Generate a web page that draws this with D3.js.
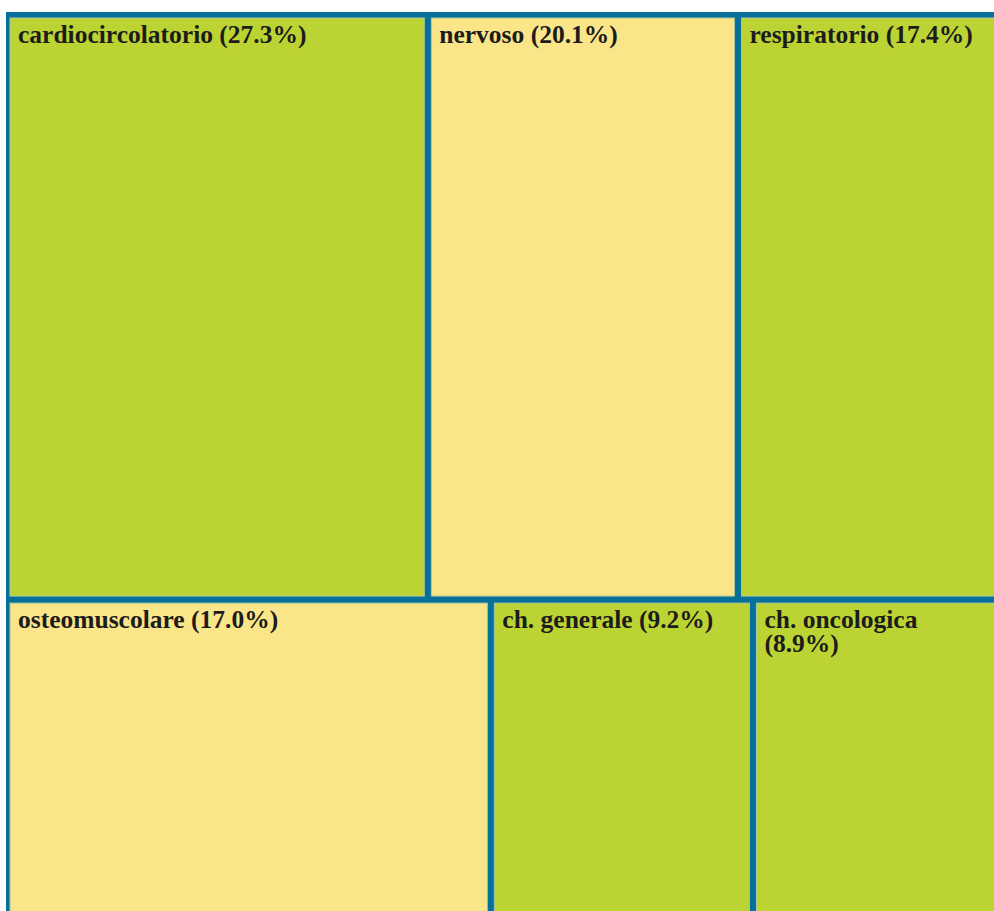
<!DOCTYPE html>
<html>
<head>
<meta charset="utf-8">
<script src="https://cdn.jsdelivr.net/npm/d3@7"></script>
<style>
  body { margin: 0; background: #fff; overflow: hidden; }
  svg { display: block; }
</style>
</head>
<body>
<div id="chart"></div>
<script>
// categories, shares (%) and which row of the tile they sit in
const categories = ["cardiocircolatorio", "nervoso", "respiratorio", "osteomuscolare", "ch. generale", "ch. oncologica"];
const values = [27.3, 20.1, 17.4, 17.0, 9.2, 8.9];
const rows = [0, 0, 0, 1, 1, 1];
const fills = ["#bcd433", "#fae588", "#bcd433", "#fae588", "#bcd433", "#bcd433"];

const width = 994;
const height = 911;
const gap = 7;      // blue space between cells
const pad = 8;      // text padding inside a cell

const svg = d3.select("#chart")
    .append("svg")
    .attr("width", width)
    .attr("height", height);

// build hierarchy: root -> rows -> leaves
const rowIds = [...new Set(rows)];
const data = {
    name: "root",
    children: rowIds.map(r => ({
        name: "row" + r,
        children: categories
            .map((c, i) => ({ name: c, value: values[i], fill: fills[i], row: rows[i] }))
            .filter(d => d.row === r)
    }))
};

const root = d3.hierarchy(data).sum(d => d.value || 0);

// rows stacked top to bottom, cells in a row left to right
function tile(node, x0, y0, x1, y1) {
    if (node.depth === 0) d3.treemapSlice(node, x0, y0, x1, y1);
    else d3.treemapDice(node, x0, y0, x1, y1);
}

d3.treemap()
    .tile(tile)
    .size([1000, 902])
    .round(false)(root);

const offX = 6.5, offY = 14.5;

// blue frame behind everything
svg.append("rect")
    .attr("x", 6)
    .attr("y", 12)
    .attr("width", 1010)
    .attr("height", 920)
    .attr("fill", "#07709a");

const leaves = root.leaves();

const cell = svg.selectAll(".cell")
    .data(leaves)
    .enter()
    .append("g")
    .attr("class", "cell")
    .attr("transform", d => `translate(${d.x0 + offX + gap / 2}, ${d.y0 + offY + gap / 2})`);

cell.append("rect")
    .attr("width", d => d.x1 - d.x0 - gap)
    .attr("height", d => d.y1 - d.y0 - gap)
    .attr("fill", d => d.data.fill)
    .attr("stroke", "#a9c7a0")
    .attr("stroke-width", 1);

const label = cell.append("text")
    .attr("font-family", "'Liberation Serif', 'Times New Roman', serif")
    .attr("font-weight", "bold")
    .attr("font-size", 25.5)
    .attr("fill", "#1c1c1c");

// wrap words when the label is wider than the cell
label.each(function(d) {
    const el = d3.select(this);
    const words = (d.data.name + " (" + d.data.value.toFixed(1) + "%)").split(" ");
    const maxW = d.x1 - d.x0 - gap - 2 * pad - 4;
    let line = [];
    let lineNo = 0;
    let tspan = el.append("tspan").attr("x", pad).attr("y", 25);
    words.forEach(w => {
        line.push(w);
        tspan.text(line.join(" "));
        if (tspan.node().getComputedTextLength() > maxW && line.length > 1) {
            line.pop();
            tspan.text(line.join(" "));
            line = [w];
            lineNo++;
            tspan = el.append("tspan")
                .attr("x", pad)
                .attr("y", 25 + lineNo * 24)
                .text(w);
        }
    });
});
</script>
</body>
</html>
